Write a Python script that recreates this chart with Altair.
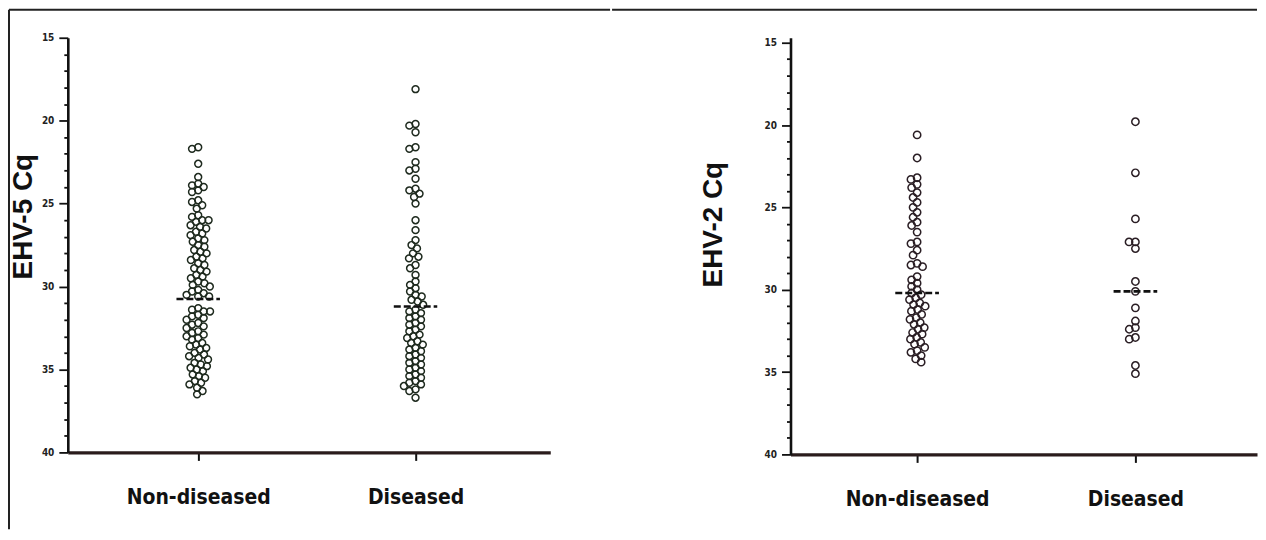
import math
import altair as alt
import pandas as pd

# ---------------- data ----------------
categories = ["Non-diseased", "Diseased"]

ehv5_non = [21.6, 21.7, 22.6, 23.4, 23.8, 23.9, 24.0, 24.2, 24.3, 24.8, 24.9, 25.1, 25.3,
            25.7, 25.8, 26.0, 26.0, 26.1, 26.3, 26.4, 26.5, 26.7, 26.8, 26.9, 27.1, 27.2,
            27.3, 27.5, 27.6, 27.8, 27.9, 28.0, 28.2, 28.3, 28.4, 28.6, 28.7, 28.9, 29.0,
            29.1, 29.3, 29.4, 29.5, 29.7, 29.8, 29.9, 30.0, 30.2, 30.3, 30.4, 30.5, 30.6,
            30.6,
            31.3, 31.4, 31.5, 31.5, 31.7, 31.8, 31.9, 32.0, 32.2, 32.3, 32.4, 32.5, 32.7,
            32.8, 32.9, 33.0, 33.1, 33.2, 33.4, 33.5, 33.6, 33.7, 33.8, 34.0, 34.1, 34.2,
            34.3, 34.4, 34.6, 34.7, 34.8, 34.9, 35.0, 35.1, 35.3, 35.4, 35.5, 35.7, 35.8,
            35.9, 36.1, 36.3, 36.5]
ehv5_dis = [18.1, 20.2, 20.3, 20.7, 21.6, 21.7, 22.5, 22.9, 23.0, 23.5, 24.1, 24.2, 24.4,
            24.6, 25.0, 26.0, 26.6, 27.2, 27.5, 27.7, 28.0, 28.2, 28.3, 28.7, 28.9, 29.3,
            29.7, 29.9, 30.1, 30.3, 30.5, 30.6, 30.8, 30.9, 31.1,
            31.4, 31.5, 31.6, 31.8, 31.9, 32.0, 32.2, 32.3, 32.4, 32.6, 32.7, 32.9, 33.0,
            33.1, 33.3, 33.4, 33.5, 33.7, 33.8, 33.9, 34.1, 34.2, 34.3, 34.5, 34.6, 34.7,
            34.9, 35.0, 35.1, 35.3, 35.4, 35.5, 35.7, 35.8, 35.9, 36.0, 36.2, 36.3, 36.7]
ehv2_non = [20.6, 22.0, 23.2, 23.3, 23.6, 23.8, 24.1, 24.4, 24.7, 25.0, 25.3, 25.6, 25.9,
            26.1, 26.5, 27.1, 27.2, 27.6, 27.9, 28.4, 28.5, 28.6, 29.2, 29.4, 29.6, 29.8,
            30.0, 30.2, 30.3, 30.5, 30.6, 30.8, 30.9, 31.0, 31.2, 31.3, 31.5, 31.7, 31.8,
            32.0, 32.1, 32.3, 32.4, 32.6, 32.7, 32.9, 33.0, 33.2, 33.3, 33.5, 33.7, 33.8,
            34.0, 34.2, 34.4]
ehv2_dis = [19.8, 22.9, 25.7, 27.1, 27.1, 27.5, 29.5, 30.1, 31.1, 31.9, 32.3, 32.4, 32.9,
            33.0, 34.6, 35.1]

ehv5_medians = [30.75, 31.2]
ehv2_medians = [30.2, 30.1]
y_ticks = list(range(15, 41))

LABEL_FONT = "DejaVu Sans Condensed, sans-serif"
TITLE_FONT = "Liberation Sans, Arial, sans-serif"


def swarm(values, px_per_unit, diam):
    """Deterministic beeswarm offsets (pixels) for one column."""
    placed = []
    offsets = [0.0] * len(values)
    order = sorted(range(len(values)), key=lambda i: values[i])
    for i in order:
        y = values[i] * px_per_unit
        cands = [0.0]
        for px, py in placed:
            dy = y - py
            if abs(dy) < diam:
                dx = math.sqrt(diam * diam - dy * dy)
                cands += [px + dx, px - dx]
        cands.sort(key=lambda c: (abs(c), c))
        chosen = 0.0
        for c in cands:
            if all((c - px) ** 2 + (y - py) ** 2 >= diam * diam - 1e-6 for px, py in placed):
                chosen = c
                break
        placed.append((chosen, y))
        offsets[i] = chosen
    return offsets


def build_points(groups, px_per_unit, step_px, diam):
    rows = []
    for idx, vals in enumerate(groups):
        offs = swarm(vals, px_per_unit, diam)
        for v, o in zip(vals, offs):
            rows.append({"group": categories[idx], "idx": idx, "cq": v,
                         "xpos": idx + o / step_px})
    return pd.DataFrame(rows)


def panel(groups, medians, title, W, H, dom, ydom, step_px, frame_y, frame_left, frame_right,
          draw_left_frame, title_x, title_y, stroke, pt_size):
    px_per_unit = H / (ydom[1] - ydom[0])
    df = build_points(groups, px_per_unit, step_px, 6.4)
    med_df = pd.DataFrame({"group": categories, "idx": [0, 1], "median": medians})

    xscale = alt.Scale(domain=dom, nice=False, zero=False)
    yscale = alt.Scale(domain=ydom, reverse=True, nice=False, zero=False)
    xaxis = alt.Axis(values=[0, 1],
                     labelExpr="datum.value === 0 ? 'Non-diseased' : 'Diseased'",
                     grid=False, domainColor="#2a1c1c", domainWidth=3.2,
                     tickColor="#111111", tickWidth=2, tickSize=8,
                     labelFont=LABEL_FONT, labelFontSize=21, labelFontWeight="bold",
                     labelColor="#111111", labelPadding=26, labelFlush=False)
    yaxis = alt.Axis(values=y_ticks,
                     labelExpr="datum.value % 5 === 0 ? datum.label : ''",
                     grid=False, domainColor="#111111", domainWidth=2.6,
                     tickColor="#111111", tickWidth=1.8,
                     tickSize={"condition": {"test": "datum.value % 5 === 0", "value": 9},
                               "value": 4},
                     labelFont=LABEL_FONT, labelFontSize=10, labelFontWeight="bold",
                     labelColor="#222222", labelPadding=5, labelFlush=False,
                     labelOverlap=False,
                     titleFont=TITLE_FONT, titleFontSize=28, titleFontWeight="bold",
                     titleColor="#111111", titleX=title_x, titleY=title_y)

    X = alt.X("xpos:Q", scale=xscale, axis=xaxis, title=None)
    Y = alt.Y("cq:Q", scale=yscale, axis=yaxis, title=title)

    points = alt.Chart(df).mark_point(
        shape="circle", filled=False, size=pt_size, strokeWidth=1.5, color=stroke, opacity=1
    ).encode(x=X, y=Y)

    med = alt.Chart(med_df).transform_calculate(
        x1="datum.idx - 0.1", x2="datum.idx + 0.1"
    ).mark_rule(strokeDash=[7, 3], strokeWidth=2.6, color="#111111").encode(
        x=alt.X("x1:Q", scale=xscale, axis=xaxis, title=None),
        x2="x2:Q",
        y=alt.Y("median:Q", scale=yscale, axis=yaxis, title=title),
    )

    one = pd.DataFrame({"k": [0]})
    top = alt.Chart(one).mark_rule(color="#222222", strokeWidth=2).encode(
        x=alt.value(frame_left), x2=alt.value(frame_right), y=alt.value(frame_y))
    layers = [top]
    if draw_left_frame:
        left = alt.Chart(one).mark_rule(color="#222222", strokeWidth=2).encode(
            x=alt.value(frame_left), y=alt.value(frame_y), y2=alt.value(493))
        layers.append(left)
    layers += [points, med]
    return alt.layer(*layers).properties(width=W, height=H)


left_panel = panel([ehv5_non, ehv5_dis], ehv5_medians, "EHV-5 Cq",
                   W=484, H=416, dom=[-0.6, 1.62], ydom=[15, 40], step_px=218,
                   frame_y=-28, frame_left=-59, frame_right=544, draw_left_frame=True,
                   title_x=-30, title_y=179, stroke="#1e2a1e", pt_size=48)
right_panel = panel([ehv2_non, ehv2_dis], ehv2_medians, "EHV-2 Cq",
                    W=468, H=418, dom=[-0.58, 1.557], ydom=[14.7, 40], step_px=219,
                    frame_y=-28, frame_left=-179, frame_right=468, draw_left_frame=False,
                    title_x=-63, title_y=187, stroke="#2a1e24", pt_size=54)

chart = alt.hconcat(left_panel, right_panel, spacing=0).properties(
    padding=0, background="white"
).configure_view(stroke=None)

chart.save("out.html", embed_options={"renderer": "svg", "actions": False})
